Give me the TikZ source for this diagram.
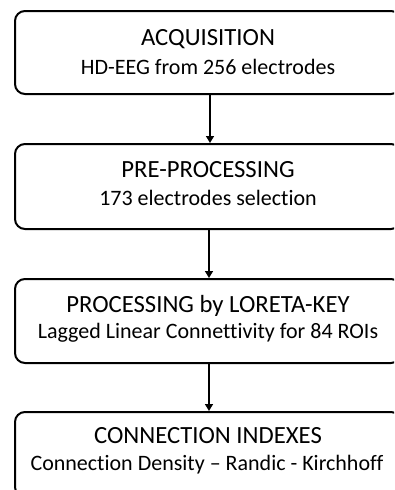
\documentclass[tikz,border=0pt]{standalone}
\usepackage{fontspec}
\setmainfont{Carlito}[Ligatures=NoCommon]
\usetikzlibrary{arrows.meta}
\begin{document}
\begin{tikzpicture}[x=1pt,y=-1pt,
  box/.style={draw=black, line width=2pt, rounded corners=10pt, minimum width=386pt, inner sep=0pt},
  ttl/.style={anchor=base, inner sep=0pt, font=\fontsize{24.7}{28}\selectfont},
  sub/.style={anchor=base, inner sep=0pt, font=\fontsize{22}{26}\selectfont},
  conn/.style={line width=1.5pt, -{Triangle[length=7pt,width=8pt]}}]
\useasboundingbox (0,0) rectangle (394,490);
\clip (0,0) rectangle (394,490);
\node[box, minimum height=83pt] (b1) at (208,52.5) {};
\node[box, minimum height=85pt] (b2) at (208,186.5) {};
\node[box, minimum height=84pt] (b3) at (208,321) {};
\node[box, minimum height=85pt] (b4) at (208,454.5) {};
\node[ttl] (t1) at (208,45) {ACQUISITION};
\node[sub] (s1) at (208,74) {HD-EEG from 256 electrodes};
\node[ttl] (t2) at (208,177) {PRE-PROCESSING};
\node[sub] (s2) at (208,205) {173 electrodes selection};
\node[ttl] (t3) at (208,312) {PROCESSING by LORETA-KEY};
\node[sub] (s3) at (208,338) {Lagged Linear Connettivity for 84 ROIs};
\node[ttl] (t4) at (208,443) {CONNECTION INDEXES};
\node[sub] (s4) at (207,470) {Connection Density – Randic - Kirchhoff};
\coordinate (a1) at (210,0);
\coordinate (a2) at (209,0);
\coordinate (a3) at (209,0);
\coordinate (a4) at (207,0);
\draw[conn] (b1.south -| a1) -- (b2.north -| a1);
\draw[conn] (b2.south -| a2) -- (b3.north -| a2);
\draw[conn] (b3.south -| a3) -- (b4.north -| a3);
\end{tikzpicture}
\end{document}
